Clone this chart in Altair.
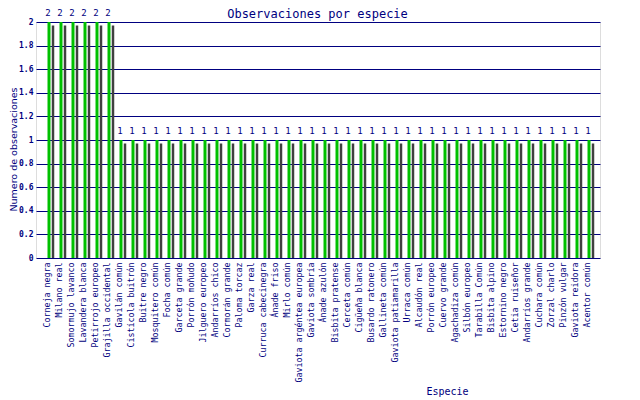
import altair as alt
import pandas as pd

titulo = "Observaciones por especie"
especies = [
    "Corneja negra", "Milano real", "Somormujo lavanco", "Lavandera blanca",
    "Petirrojo europeo", "Grajilla occidental", "Gavilán común", "Cistícola buitrón",
    "Buitre negro", "Mosquitero común", "Focha común", "Garceta grande",
    "Porrón moñudo", "Jilguero europeo", "Andarríos chico", "Cormorán grande",
    "Paloma torcaz", "Garza real", "Curruca cabecinegra", "Ánade friso",
    "Mirlo común", "Gaviota argéntea europea", "Gaviota sombría", "Ánade azulón",
    "Bisbita pratense", "Cerceta común", "Cigüeña blanca", "Busardo ratonero",
    "Gallineta común", "Gaviota patiamarilla", "Urraca común", "Alcaudón real",
    "Porrón europeo", "Cuervo grande", "Agachadiza común", "Silbón europeo",
    "Tarabilla Común", "Bisbita alpino", "Estornino negro", "Cetia ruiseñor",
    "Andarríos grande", "Cuchara común", "Zorzal charlo", "Pinzón vulgar",
    "Gaviota reidora", "Acentor común",
]
observaciones = [
    2, 2, 2, 2, 2, 2, 1, 1, 1, 1, 1, 1, 1, 1, 1, 1,
    1, 1, 1, 1, 1, 1, 1, 1, 1, 1, 1, 1, 1, 1, 1, 1,
    1, 1, 1, 1, 1, 1, 1, 1, 1, 1, 1, 1, 1, 1,
]
y_ticks = [0, 0.2, 0.4, 0.6, 0.8, 1, 1.2, 1.4, 1.6, 1.8, 2]

df = pd.DataFrame({"Especie": especies, "Obs": observaciones})

NAVY = "#000080"
GREEN = "#00c000"
GRAY = "#404040"
MONO = "DejaVu Sans Mono"

x = alt.X(
    "Especie:N",
    sort=especies,
    scale=alt.Scale(paddingInner=0, paddingOuter=0.5),
    axis=alt.Axis(
        title="Especie",
        labelAngle=270,
        labelFont=MONO,
        labelFontSize=8.3,
        labelColor=NAVY,
        labelPadding=4,
        ticks=False,
        domain=False,
        grid=False,
        titleFont=MONO,
        titleFontSize=10,
        titleFontWeight="normal",
        titleColor=NAVY,
        titleX=411,
        titleY=133,
        titleBaseline="middle",
        labelLimit=200,
    ),
)
y = alt.Y(
    "Obs:Q",
    scale=alt.Scale(domain=[0, 2], nice=False),
    axis=alt.Axis(
        title="Numero de observaciones",
        values=y_ticks,
        format="~g",
        labelFont=MONO,
        labelFontSize=8,
        labelFontWeight="bold",
        labelColor=NAVY,
        labelPadding=3,
        ticks=False,
        domain=False,
        grid=True,
        gridColor=NAVY,
        gridOpacity=1,
        gridWidth=1,
        titleFont="DejaVu Sans",
        titleFontSize=9.5,
        titleFontWeight="normal",
        titleColor=NAVY,
        titleX=-23,
        titleY=127,
        titleBaseline="middle",
    ),
)

base = alt.Chart(df)
green = base.mark_bar(color=GREEN, width=3, xOffset=1).encode(x=x, y=y)
shadow = base.mark_bar(color=GRAY, width=2.5, xOffset=5, yOffset=3.5, clip=True).encode(x=x, y=y)
labels = base.mark_text(
    font=MONO, fontSize=9, color=NAVY, baseline="bottom", dy=-4, dx=0
).encode(x=x, y=y, text="Obs:Q")
title_mark = (
    alt.Chart(pd.DataFrame({"titulo": [titulo]}))
    .mark_text(font=MONO, fontSize=12, color=NAVY, baseline="alphabetic", align="center")
    .encode(text="titulo:N", x=alt.value(281.5), y=alt.value(-4))
)

chart = (
    alt.layer(green, shadow, labels, title_mark)
    .properties(
        width=564,
        height=236,
        autosize=alt.AutoSizeParams(type="none"),
        padding={"left": 28, "top": 14, "right": 32, "bottom": 141},
    )
    .configure_view(stroke=NAVY, strokeWidth=1)
    .configure(background="white")
)

chart.save("out.html", embed_options={"renderer": "svg", "actions": False})
